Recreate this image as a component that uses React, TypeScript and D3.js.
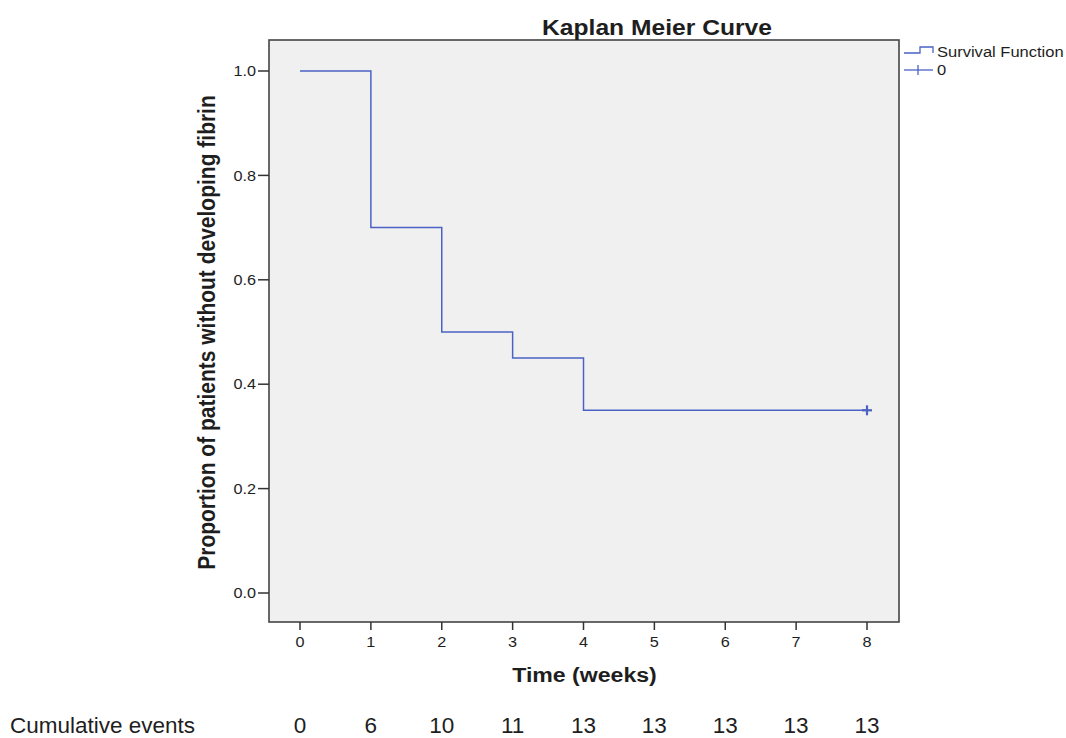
import React from "react";
import * as d3 from "d3";

const times = [0, 1, 2, 3, 4, 8];
const survival = [1.0, 0.7, 0.5, 0.45, 0.35, 0.35];
const censorTimes = [8];
const censorValues = [0.35];
const xTicks = [0, 1, 2, 3, 4, 5, 6, 7, 8];
const yTicks = [0.0, 0.2, 0.4, 0.6, 0.8, 1.0];
const cumulativeEvents = [0, 6, 10, 11, 13, 13, 13, 13, 13];

const W = 1066;
const H = 738;
const frame = { left: 269, right: 899, top: 40, bottom: 622 };
const lineColor = "#4a62c4";
const textColor = "#1e1e1e";
const font = "'Liberation Sans', Arial, sans-serif";
const SX = 1.12;

function SText(props: {
  x: number;
  y: number;
  size: number;
  anchor?: string;
  bold?: boolean;
  sx?: number;
  dy?: string;
  children: React.ReactNode;
}) {
  const sx = props.sx ?? SX;
  return (
    <text
      transform={`translate(${props.x},${props.y}) scale(${sx},1)`}
      textAnchor={props.anchor ?? "start"}
      fontSize={props.size}
      fontWeight={props.bold ? "bold" : "normal"}
      dy={props.dy}
      fill={textColor}
    >
      {props.children}
    </text>
  );
}

export default function App() {
  const x = d3.scaleLinear().domain([0, 8]).range([300, 867]);
  const y = d3.scaleLinear().domain([0, 1]).range([593, 71]);

  const pts: [number, number][] = times.map((t, i) => [t, survival[i]]);
  const line = d3
    .line<[number, number]>()
    .x((d) => x(d[0]))
    .y((d) => y(d[1]))
    .curve(d3.curveStepAfter);

  return (
    <svg
      width={W}
      height={H}
      style={{ position: "absolute", left: 0, top: 0, background: "#fff" }}
      fontFamily={font}
    >
      <rect
        x={frame.left}
        y={frame.top}
        width={frame.right - frame.left}
        height={frame.bottom - frame.top}
        fill="#f0f0f0"
        stroke="#444"
        strokeWidth={1.6}
      />
      {/* y axis */}
      {yTicks.map((t) => (
        <g key={"y" + t}>
          <line x1={frame.left - 11} x2={frame.left} y1={y(t)} y2={y(t)} stroke="#333" strokeWidth={1.5} />
          <SText x={frame.left - 13} y={y(t)} dy="0.36em" anchor="end" size={14.5}>
            {t.toFixed(1)}
          </SText>
        </g>
      ))}
      {/* x axis */}
      {xTicks.map((t) => (
        <g key={"x" + t}>
          <line x1={x(t)} x2={x(t)} y1={frame.bottom} y2={frame.bottom + 8} stroke="#333" strokeWidth={1.5} />
          <SText x={x(t)} y={647} anchor="middle" size={14.5}>
            {t}
          </SText>
        </g>
      ))}
      {/* curve */}
      <path d={line(pts) || ""} fill="none" stroke={lineColor} strokeWidth={1.5} />
      {censorTimes.map((t, i) => (
        <g key={"c" + i} stroke={lineColor} strokeWidth={2.2}>
          <line x1={x(t) - 5} x2={x(t) + 5} y1={y(censorValues[i])} y2={y(censorValues[i])} />
          <line x1={x(t)} x2={x(t)} y1={y(censorValues[i]) - 5} y2={y(censorValues[i]) + 5} />
        </g>
      ))}
      {/* title */}
      <SText x={657} y={35} anchor="middle" size={22} bold sx={1.12}>
        Kaplan Meier Curve
      </SText>
      <text
        transform={`translate(215, 332.5) rotate(-90) scale(1,1.1)`}
        textAnchor="middle"
        fontSize={21}
        fontWeight="bold"
        fill={textColor}
      >
        Proportion of patients without developing fibrin
      </text>
      <SText x={584.5} y={682} anchor="middle" size={21} bold sx={1.1}>
        Time (weeks)
      </SText>
      {/* legend */}
      <path d="M904,53 H920 V47 H933 V53" fill="none" stroke={lineColor} strokeWidth={1.3} />
      <SText x={937} y={57} size={14.5} sx={1.14}>
        Survival Function
      </SText>
      <line x1={904} x2={933} y1={70} y2={70} stroke={lineColor} strokeWidth={1.3} />
      <line x1={918} x2={918} y1={65} y2={75} stroke={lineColor} strokeWidth={1.3} />
      <SText x={937} y={75} size={14.5} sx={1.14}>
        0
      </SText>
      {/* cumulative events */}
      <text x={10} y={733} fontSize={22.5} fill={textColor} fontWeight={300}>
        Cumulative events
      </text>
      {cumulativeEvents.map((v, i) => (
        <text
          key={"e" + i}
          x={x(xTicks[i])}
          y={733}
          textAnchor="middle"
          fontSize={22.5}
          fill={textColor}
        >
          {v}
        </text>
      ))}
    </svg>
  );
}
